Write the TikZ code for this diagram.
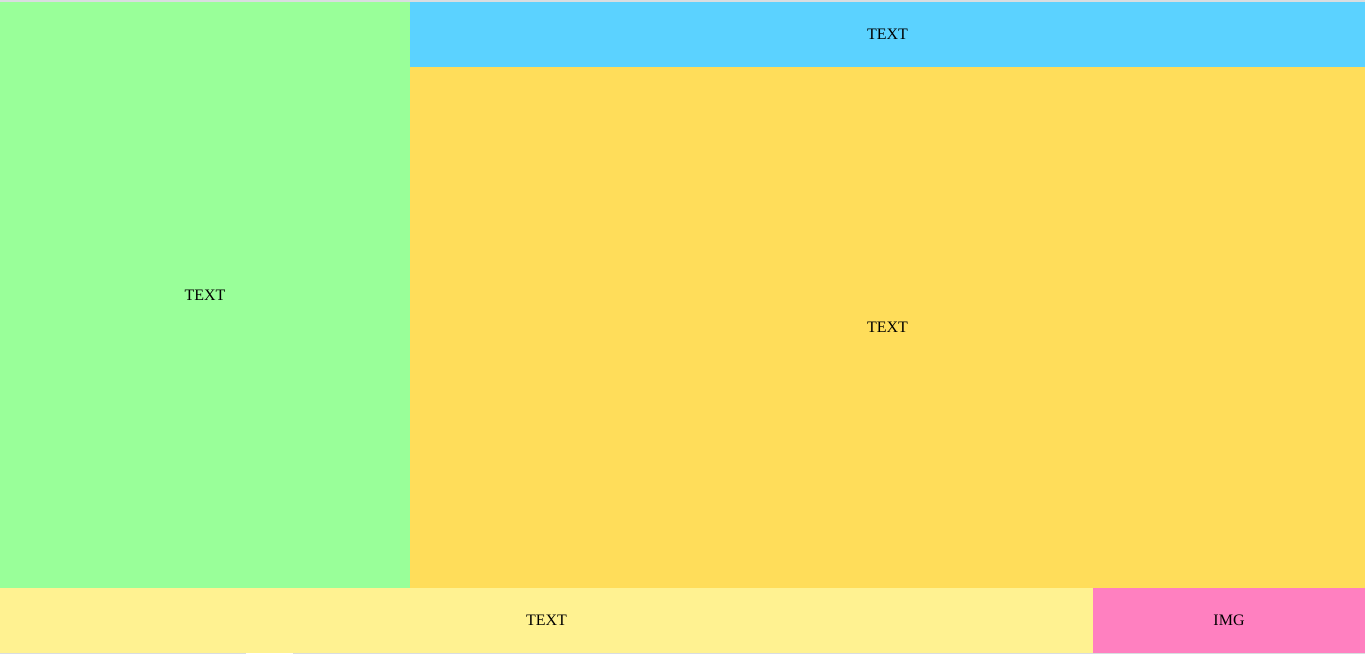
\documentclass[tikz,border=0pt]{standalone}
\usepackage{fontspec}
\setmainfont{Liberation Serif}
\definecolor{cgreen}{HTML}{99FF99}
\definecolor{cblue}{HTML}{5BD2FF}
\definecolor{cyellow}{HTML}{FFDD5A}
\definecolor{clight}{HTML}{FFF291}
\definecolor{cpink}{HTML}{FF80C0}
\definecolor{cedge}{HTML}{D9DDE0}
\begin{document}
\begin{tikzpicture}[x=1pt,y=-1pt,
  panel/.style={draw=none,inner sep=0pt,outer sep=0pt,anchor=north west,
    font=\fontsize{16}{19}\selectfont,text=black}]
\useasboundingbox (0,0) rectangle (1365,654);
\fill[cedge] (0,0) rectangle (1365,2);
\fill[cedge] (0,653) rectangle (1365,654);
\fill[white] (246,653) rectangle (293,654);
\node[panel,fill=cgreen,minimum width=410pt,minimum height=586pt] (left) at (0,2) {TEXT};
\node[panel,fill=cblue,minimum width=955pt,minimum height=65pt] (top) at (410,2) {TEXT};
\node[panel,fill=cyellow,minimum width=955pt,minimum height=521pt] (main) at (410,67) {TEXT};
\node[panel,fill=clight,minimum width=1093pt,minimum height=65pt] (bottom) at (0,588) {TEXT};
\node[panel,fill=cpink,minimum width=272pt,minimum height=65pt] (img) at (1093,588) {IMG};
\end{tikzpicture}
\end{document}
